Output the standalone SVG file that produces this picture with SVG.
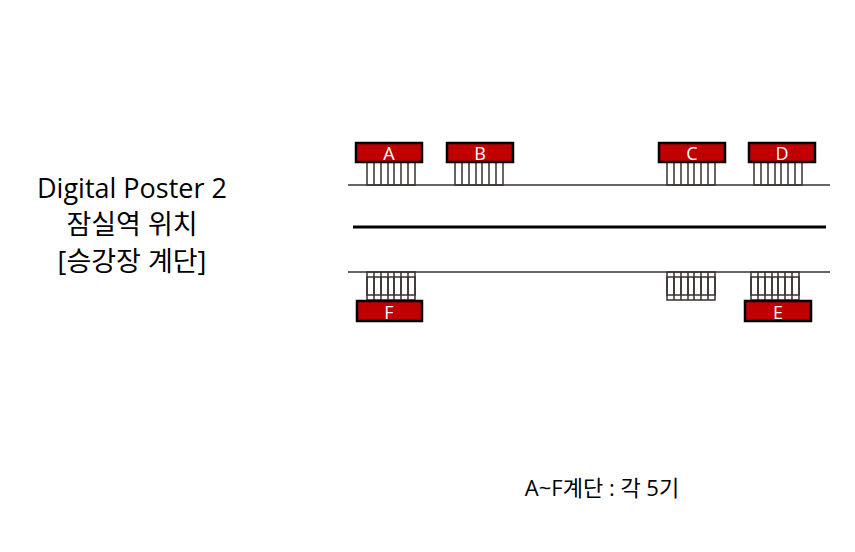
<svg xmlns="http://www.w3.org/2000/svg" width="855" height="552" viewBox="0 0 855 552">
<defs>
<style>
.box{fill:#c00000;stroke:#000;stroke-width:2.5}
.lbl{font-family:"Open Sans","Noto Sans CJK KR",sans-serif;font-size:18px;fill:#fff;text-anchor:middle}
.st{fill:none;stroke:#3a3030;stroke-width:1.5}
.rail{stroke:#3a3030;stroke-width:1.5}
.t{font-family:"Open Sans","Noto Sans CJK KR",sans-serif;fill:#000;text-anchor:middle}
</style>
<g id="stair"><rect class="st" x="0" y="0" width="48" height="23"/><path class="st" d="M7 0V23M14 0V23M21 0V23M27 0V23M34 0V23M41 0V23"/></g>
</defs>
<rect width="855" height="552" fill="#fff"/>
<g id="connectors">
<line class="rail" x1="348" y1="185" x2="830" y2="185"/>
<line x1="353" y1="227" x2="826" y2="227" stroke="#000" stroke-width="3"/>
<line class="rail" x1="348" y1="272" x2="830" y2="272"/>
</g>
<use href="#stair" x="367" y="162"/>
<use href="#stair" x="455" y="162"/>
<use href="#stair" x="667" y="162"/>
<use href="#stair" x="754" y="162"/>
<use href="#stair" x="367" y="272" height="28"/>
<use href="#stair" x="667" y="272"/>
<use href="#stair" x="751" y="272"/>
<g transform="translate(0,5)"><use href="#stair" x="367" y="272"/><use href="#stair" x="667" y="272"/><use href="#stair" x="751" y="272"/></g>
<g id="A"><rect class="box" x="356" y="143" width="66" height="19"/><text class="lbl" x="389" y="160">A</text></g>
<g id="B"><rect class="box" x="447" y="143" width="66" height="19"/><text class="lbl" x="480" y="160">B</text></g>
<g id="C"><rect class="box" x="659" y="143" width="66" height="19"/><text class="lbl" x="692" y="160">C</text></g>
<g id="D"><rect class="box" x="749" y="143" width="66" height="19"/><text class="lbl" x="782" y="160">D</text></g>
<g id="F"><rect class="box" x="357" y="301" width="65" height="20"/><text class="lbl" x="389" y="319">F</text></g>
<g id="E"><rect class="box" x="745" y="301" width="66" height="20"/><text class="lbl" x="778" y="319">E</text></g>
<g id="title" class="t" font-size="27">
<text x="132" y="198">Digital Poster 2</text>
<text x="132" y="234">잠실역 위치</text>
<text x="132" y="271">[승강장 계단]</text>
</g>
<text class="t" x="602" y="496" font-size="22">A~F계단 : 각 5기</text>
</svg>
